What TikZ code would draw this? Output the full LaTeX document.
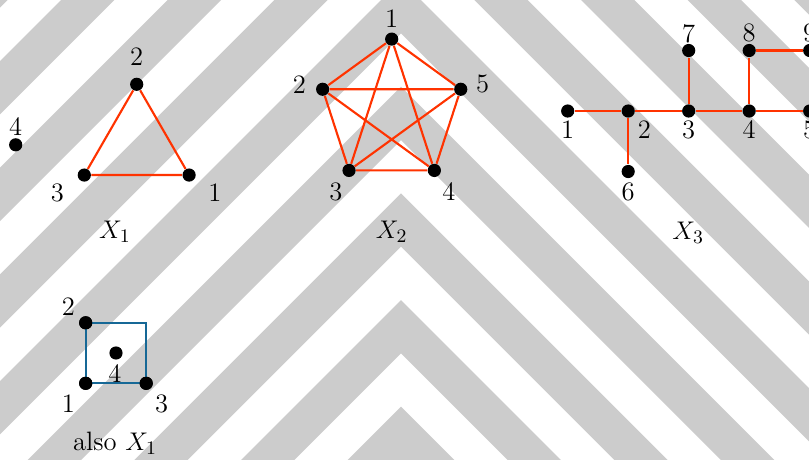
\documentclass[tikz,border=0pt]{standalone}
\usepackage{tikz}
\definecolor{stripegray}{RGB}{204,204,204}
\definecolor{edgered}{RGB}{255,51,0}
\definecolor{edgeblue}{RGB}{22,104,150}
\tikzset{
  vtx/.style={circle,fill=black,inner sep=0pt,minimum size=6.2pt},
  lab/.style={inner sep=0pt,font=\fontsize{12.5}{15}\selectfont},
  redge/.style={draw=edgered,line width=1pt},
  bedge/.style={draw=edgeblue,line width=1pt},
}
\begin{document}
\begin{tikzpicture}[x=0.016529cm,y=-0.016529cm]
\useasboundingbox (0,0) rectangle (809,459);
% chevron background
\begin{scope}
\clip (0,0) rectangle (809,459);
\foreach \k in {-2,...,8} {
  \fill[stripegray] (401,{300-106.667*\k}) -- ++(500,500) -- ++(0,53.333) -- ++(-500,-500) -- ++(-500,500) -- ++(0,-53.333) -- cycle;
}
\end{scope}

% ---------- X1 ----------
\node[vtx] (a1) at (189.1,175.05) {};
\node[vtx] (a2) at (136.7,84.3) {};
\node[vtx] (a3) at (84.3,175.05) {};
\node[vtx] (a4) at (15.7,144.8) {};
\draw[redge] (a1) -- (a2) -- (a3) -- (a1);
\node[lab] (la1) at (215,192.7) {1};
\node[lab] (la2) at (136.7,56.7) {2};
\node[lab] (la3) at (57.3,192.7) {3};
\node[lab] (la4) at (15.7,126.7) {4};
\node[lab] (tx1) at (115,231.7) {$X_1$};

% ---------- X2 ----------
\node[vtx] (b1) at (391.7,39.1) {};
\node[vtx] (b2) at (322.65,89.27) {};
\node[vtx] (b3) at (349.03,170.43) {};
\node[vtx] (b4) at (434.37,170.43) {};
\node[vtx] (b5) at (460.75,89.27) {};
\draw[redge] (b1) -- (b2) (b1) -- (b3) (b1) -- (b4) (b1) -- (b5)
  (b2) -- (b3) (b2) -- (b4) (b2) -- (b5)
  (b3) -- (b4) (b3) -- (b5) (b4) -- (b5);
\node[lab] (lb1) at (391.7,18.3) {1};
\node[lab] (lb2) at (299.3,85) {2};
\node[lab] (lb3) at (336,191.7) {3};
\node[lab] (lb4) at (449,191.7) {4};
\node[lab] (lb5) at (482.7,84) {5};
\node[lab] (tx2) at (391.7,231.7) {$X_2$};

% ---------- X3 ----------
\node[vtx] (c1) at (567.7,111) {};
\node[vtx] (c2) at (628.2,111) {};
\node[vtx] (c3) at (688.7,111) {};
\node[vtx] (c4) at (749.2,111) {};
\node[vtx] (c5) at (809.7,111) {};
\node[vtx] (c6) at (628.2,171.5) {};
\node[vtx] (c7) at (688.7,50.5) {};
\node[vtx] (c8) at (749.2,50.5) {};
\node[vtx] (c9) at (809.7,50.5) {};
\draw[redge] (c1) -- (c2) -- (c3) -- (c4) -- (c5)
  (c2) -- (c6) (c3) -- (c7) (c4) -- (c8) -- (c9);
\node[lab] (lc1) at (567.7,130) {1};
\node[lab] (lc2) at (644.3,130) {2};
\node[lab] (lc3) at (688.7,130) {3};
\node[lab] (lc4) at (749.2,130) {4};
\node[lab] (lc5) at (809.7,130) {5};
\node[lab] (lc6) at (628.2,191.7) {6};
\node[lab] (lc7) at (688.7,33.3) {7};
\node[lab] (lc8) at (749.2,33.3) {8};
\node[lab] (lc9) at (809.7,33.3) {9};
\node[lab] (tx3) at (688.3,233) {$X_3$};

% ---------- also X1 ----------
\coordinate (dc) at (146.2,322.8);
\node[vtx] (d1) at (85.7,383.3) {};
\node[vtx] (d2) at (85.7,322.8) {};
\node[vtx] (d3) at (146.2,383.3) {};
\node[vtx] (d4) at (116,353) {};
\draw[bedge] (d1.center) -- (d2.center) -- (dc) -- (d3.center) -- cycle;
\node[vtx] at (d1) {};
\node[vtx] at (d2) {};
\node[vtx] at (d3) {};
\node[lab] (ld1) at (68.3,404) {1};
\node[lab] (ld2) at (68.3,306.7) {2};
\node[lab] (ld3) at (161.7,404) {3};
\node[lab] (ld4) at (115,373.3) {4};
\node[lab] (tx4) at (115,443) {also $X_1$};
\end{tikzpicture}
\end{document}
